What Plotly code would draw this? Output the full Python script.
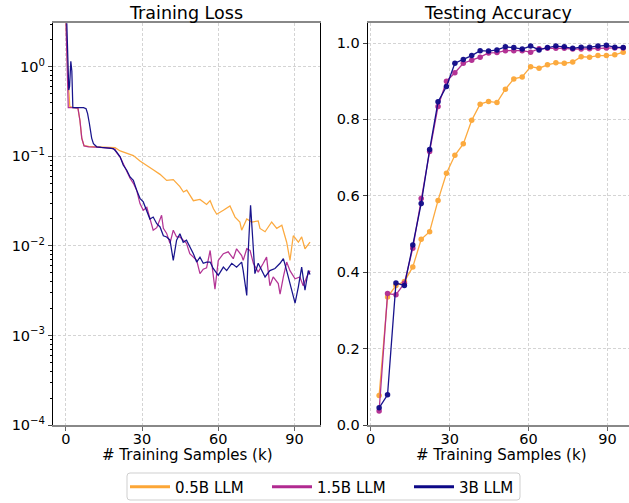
import plotly.graph_objects as go

# ---------------- data ----------------
series_names = ["0.5B LLM", "1.5B LLM", "3B LLM"]
series_colors = ["#fca636", "#b12a90", "#0d0887"]

# Training loss (x in k samples)
loss_x_05 = [0, 0.5, 1.0, 1.3, 1.6, 3, 4.8, 5.6, 6.3, 7.2, 9, 12, 15, 17.4, 19.4, 21.4, 24.0,
             26.6, 29.2, 31.9, 34.4, 37.1, 39.7, 42.3, 44.9, 46.3, 47.6, 50.2, 52.8, 55.4,
             56.8, 58.1, 59.4, 62.0, 64.6, 66.6, 68.5, 69.2, 71.2, 73.1, 75.7, 76.4, 78.4,
             81.0, 83.0, 85.0, 86.9, 88.2, 89.5, 91.5, 92.8, 94.1, 96.1]
loss_y_05 = [4.0, 1.2, 0.6, 0.5, 0.36, 0.35, 0.345, 0.25, 0.16, 0.132, 0.129, 0.128, 0.127,
             0.127, 0.125, 0.115, 0.109, 0.102, 0.089, 0.080, 0.071, 0.063, 0.054, 0.055,
             0.046, 0.040, 0.042, 0.032, 0.033, 0.029, 0.032, 0.026, 0.0226, 0.025, 0.028,
             0.021, 0.0185, 0.015, 0.020, 0.0185, 0.019, 0.0157, 0.0144, 0.0185, 0.0157,
             0.017, 0.011, 0.0069, 0.013, 0.011, 0.0126, 0.0093, 0.011]

loss_x_15 = [0, 0.6, 1.0, 3, 4.8, 5.6, 6.3, 7.2, 9, 12, 15, 17.4, 19.4, 20, 21.4, 22.6, 24,
             25.3, 26.6, 27.9, 29.2, 30.5, 31.9, 33.1, 34.4, 35.8, 37.1, 37.7, 38.4, 39.7,
             41.0, 42.3, 43.6, 44.9, 46.2, 47.5, 48.8, 50.2, 51.5, 52.8, 54.1, 55.4, 56.8,
             58.7, 60.0, 62.0, 63.9, 65.9, 67.2, 69.2, 69.8, 71.2, 72.5, 73.8, 75.7, 77.7,
             79.0, 80.3, 81.6, 83.6, 84.3, 85.6, 86.9, 88.2, 90.2, 92.1, 93.4, 94.8, 96.1]
loss_y_15 = [4.0, 1.0, 0.35, 0.35, 0.345, 0.25, 0.16, 0.131, 0.128, 0.127, 0.125, 0.124,
             0.12, 0.11, 0.098, 0.082, 0.068, 0.057, 0.05, 0.042, 0.0297, 0.025, 0.027,
             0.021, 0.015, 0.016, 0.020, 0.022, 0.0157, 0.0138, 0.0107, 0.015, 0.0126,
             0.0126, 0.0116, 0.0107, 0.0082, 0.0075, 0.0069, 0.0049, 0.0055, 0.0057, 0.0089,
             0.0033, 0.0069, 0.0082, 0.0086, 0.0072, 0.0093, 0.0078, 0.0069, 0.0093, 0.0089,
             0.0064, 0.0051, 0.0064, 0.0075, 0.0036, 0.0045, 0.0038, 0.0029, 0.0045, 0.0066,
             0.0053, 0.0043, 0.0045, 0.0036, 0.0045, 0.0053]

loss_x_3 = [0.3, 1.2, 1.5, 2.0, 2.4, 2.8, 5, 7.0, 8.0, 8.6, 9.3, 10.2, 10.9, 12.2, 14, 17.4,
            18.7, 20, 21.4, 22.6, 24, 25.3, 26.6, 27.9, 29.2, 30.5, 31.9, 33.1, 34.4, 35.8,
            37.1, 38.4, 39.7, 41.0, 42.3, 43.6, 44.9, 46.2, 47.5, 48.8, 50.2, 51.5, 52.8,
            54.1, 55.4, 56.8, 58.0, 60.0, 62.0, 63.3, 65.3, 67.2, 69.2, 69.8, 71.2, 71.8,
            72.7, 73.5, 74.4, 75.7, 77.1, 78.4, 80.3, 82.3, 84.3, 85.6, 86.9, 88.9, 90.2,
            91.5, 92.8, 94.1, 95.4, 96.1]
loss_y_3 = [4.0, 0.55, 0.6, 1.15, 0.9, 0.35, 0.35, 0.35, 0.34, 0.3, 0.233, 0.16, 0.139,
            0.128, 0.126, 0.124, 0.122, 0.112, 0.099, 0.080, 0.070, 0.059, 0.054, 0.042,
            0.034, 0.031, 0.024, 0.020, 0.021, 0.0177, 0.0163, 0.013, 0.0126, 0.0116,
            0.0069, 0.0116, 0.0137, 0.011, 0.0116, 0.0098, 0.0082, 0.0066, 0.0075, 0.0064,
            0.0066, 0.0066, 0.0056, 0.0047, 0.0058, 0.0053, 0.0064, 0.0058, 0.0066, 0.0053,
            0.0028, 0.0089, 0.0285, 0.0126, 0.0049, 0.0064, 0.0053, 0.0045, 0.0053, 0.0056,
            0.0064, 0.0072, 0.0053, 0.0032, 0.0023, 0.0035, 0.0058, 0.0032, 0.0053, 0.0048]

# Testing accuracy, evaluated every 3.2k samples
acc_x = [3.2, 6.4, 9.6, 12.8, 16.0, 19.2, 22.4, 25.6, 28.8, 32.0, 35.2, 38.4, 41.6, 44.8,
         48.0, 51.2, 54.4, 57.6, 60.8, 64.0, 67.2, 70.4, 73.6, 76.8, 80.0, 83.2, 86.4,
         89.6, 92.8, 96.0]
acc_05 = [0.077, 0.335, 0.365, 0.376, 0.414, 0.486, 0.506, 0.588, 0.659, 0.706, 0.736,
          0.798, 0.840, 0.847, 0.844, 0.879, 0.906, 0.911, 0.938, 0.934, 0.943, 0.948,
          0.947, 0.950, 0.964, 0.963, 0.967, 0.967, 0.969, 0.976]
acc_15 = [0.037, 0.344, 0.341, 0.371, 0.463, 0.593, 0.716, 0.834, 0.900, 0.922, 0.947,
          0.955, 0.963, 0.974, 0.975, 0.980, 0.980, 0.980, 0.976, 0.985, 0.986, 0.986,
          0.986, 0.984, 0.984, 0.985, 0.986, 0.987, 0.987, 0.987]
acc_3 = [0.045, 0.079, 0.372, 0.365, 0.471, 0.580, 0.721, 0.846, 0.886, 0.947, 0.957,
         0.967, 0.980, 0.979, 0.982, 0.990, 0.988, 0.984, 0.992, 0.982, 0.988, 0.992,
         0.990, 0.986, 0.989, 0.989, 0.992, 0.994, 0.989, 0.988]

loss_x = [loss_x_05, loss_x_15, loss_x_3]
loss_y = [loss_y_05, loss_y_15, loss_y_3]
acc_y = [acc_05, acc_15, acc_3]

x_ticks = [0, 30, 60, 90]
loss_ticks = [1e-4, 1e-3, 1e-2, 1e-1, 1e0]
loss_tick_text = ["10<sup>\u22124</sup>", "10<sup>\u22123</sup>", "10<sup>\u22122</sup>",
                  "10<sup>\u22121</sup>", "10<sup>0</sup>"]
acc_ticks = [0.0, 0.2, 0.4, 0.6, 0.8, 1.0]
acc_tick_text = ["0.0", "0.2", "0.4", "0.6", "0.8", "1.0"]
x_title = "# Training Samples (k)"
titles = ["Training Loss", "Testing Accuracy"]

# minor ticks of the log axis (2..9 x each decade)
minor_vals = [m * 10.0 ** e for e in range(-4, 1) for m in range(2, 10)]

# ---------------- figure ----------------
FONT = "DejaVu Sans"
TICK = 14.5
LABEL = 15
fig = go.Figure()

for name, col, xs, ys in zip(series_names, series_colors, loss_x, loss_y):
    fig.add_trace(go.Scatter(x=xs, y=ys, mode="lines", name=name,
                             line=dict(color=col, width=1.25), opacity=0.95,
                             xaxis="x", yaxis="y", showlegend=False))

for name, col, ys in zip(series_names, series_colors, acc_y):
    fig.add_trace(go.Scatter(x=acc_x, y=ys, mode="lines+markers", name=name,
                             line=dict(color=col, width=1.3),
                             marker=dict(color=col, size=5.5), opacity=0.95,
                             xaxis="x2", yaxis="y2", showlegend=False))

# legend-only entries with thicker lines
for name, col in zip(series_names, series_colors):
    fig.add_trace(go.Scatter(x=[None], y=[None], mode="lines", name=name,
                             line=dict(color=col, width=3), xaxis="x", yaxis="y",
                             showlegend=True))

grid = dict(showgrid=True, gridcolor="#d4d4d4", griddash="3px,2px", gridwidth=0.8)
common_x = dict(tickvals=x_ticks, ticks="outside", ticklen=4, tickcolor="#666",
                showline=True, linecolor="#888888", linewidth=2.2, mirror=True,
                zeroline=False, automargin=False, ticklabelstandoff=-5,
                tickfont=dict(family=FONT, size=TICK, color="black"),
                **grid)

# rounded legend frame (paper coords)
lx0, lx1, ly0, ly1 = 127 / 629, 520 / 629, 1 - 500 / 503, 1 - 473 / 503
rx, ry = 3 / 629, 3 / 503
frame = (f"M {lx0+rx},{ly0} L {lx1-rx},{ly0} Q {lx1},{ly0} {lx1},{ly0+ry} "
         f"L {lx1},{ly1-ry} Q {lx1},{ly1} {lx1-rx},{ly1} L {lx0+rx},{ly1} "
         f"Q {lx0},{ly1} {lx0},{ly1-ry} L {lx0},{ly0+ry} Q {lx0},{ly0} {lx0+rx},{ly0} Z")

fig.update_layout(
    width=629, height=503, autosize=False,
    margin=dict(l=0, r=0, t=0, b=0, pad=0, autoexpand=False),
    paper_bgcolor="white", plot_bgcolor="white",
    font=dict(family=FONT, size=TICK, color="black"),
    xaxis=dict(domain=[0.0843, 0.5087], range=[-5, 100], anchor="y", **common_x),
    yaxis=dict(domain=[0.155, 0.954], type="log", range=[-4, 0.488], anchor="x",
               tickvals=loss_ticks, ticktext=loss_tick_text, ticks="outside", ticklen=4,
               showline=True, linecolor="black", linewidth=1.2, mirror=True,
               automargin=False,
               tickfont=dict(family=FONT, size=TICK, color="black"),
               minor=dict(tickvals=minor_vals, ticks="outside", ticklen=2,
                          tickcolor="black", showgrid=False),
               zeroline=False, **grid),
    xaxis2=dict(domain=[0.5846, 1.0], range=[-1.14, 98.2], anchor="y2", **common_x),
    yaxis2=dict(domain=[0.155, 0.954], range=[0, 1.052], anchor="x2",
                tickvals=acc_ticks, ticktext=acc_tick_text, ticks="outside", ticklen=4,
                showline=True, linecolor="black", linewidth=1.2, mirror=True,
                automargin=False,
                tickfont=dict(family=FONT, size=TICK, color="black"),
                zeroline=False, **grid),
    legend=dict(orientation="h", x=125 / 629, xanchor="left",
                y=1 - 487 / 503, yanchor="middle",
                bordercolor="rgba(0,0,0,0)", borderwidth=0, bgcolor="rgba(0,0,0,0)",
                font=dict(family=FONT, size=LABEL, color="black"),
                itemwidth=40, entrywidthmode="pixels", entrywidth=87),
    shapes=[dict(type="path", path=frame, xref="paper", yref="paper",
                 line=dict(color="#cfcfcf", width=1), fillcolor="white", layer="below")],
    annotations=[
        dict(text=titles[0], x=0.2965, xref="paper", y=0.974, yref="paper",
             xanchor="center", yanchor="middle", showarrow=False,
             font=dict(family=FONT, size=17.5, color="black")),
        dict(text=titles[1], x=0.792, xref="paper", y=0.974, yref="paper",
             xanchor="center", yanchor="middle", showarrow=False,
             font=dict(family=FONT, size=17.5, color="black")),
        dict(text=x_title, x=0.298, xref="paper", y=1 - 455 / 503, yref="paper",
             xanchor="center", yanchor="middle", showarrow=False,
             font=dict(family=FONT, size=LABEL, color="black")),
        dict(text=x_title, x=0.7976, xref="paper", y=1 - 455 / 503, yref="paper",
             xanchor="center", yanchor="middle", showarrow=False,
             font=dict(family=FONT, size=LABEL, color="black")),
    ],
)

post = ("document.documentElement.style.margin='0';"
        "document.documentElement.style.overflow='hidden';"
        "document.body.style.margin='0';"
        "document.body.style.overflow='hidden';"
        "var gd=document.getElementById('{plot_id}');"
        "gd.style.position='fixed';gd.style.top='0px';gd.style.left='0px';")

fig.write_html("out.html", config={"displayModeBar": False}, post_script=post)
